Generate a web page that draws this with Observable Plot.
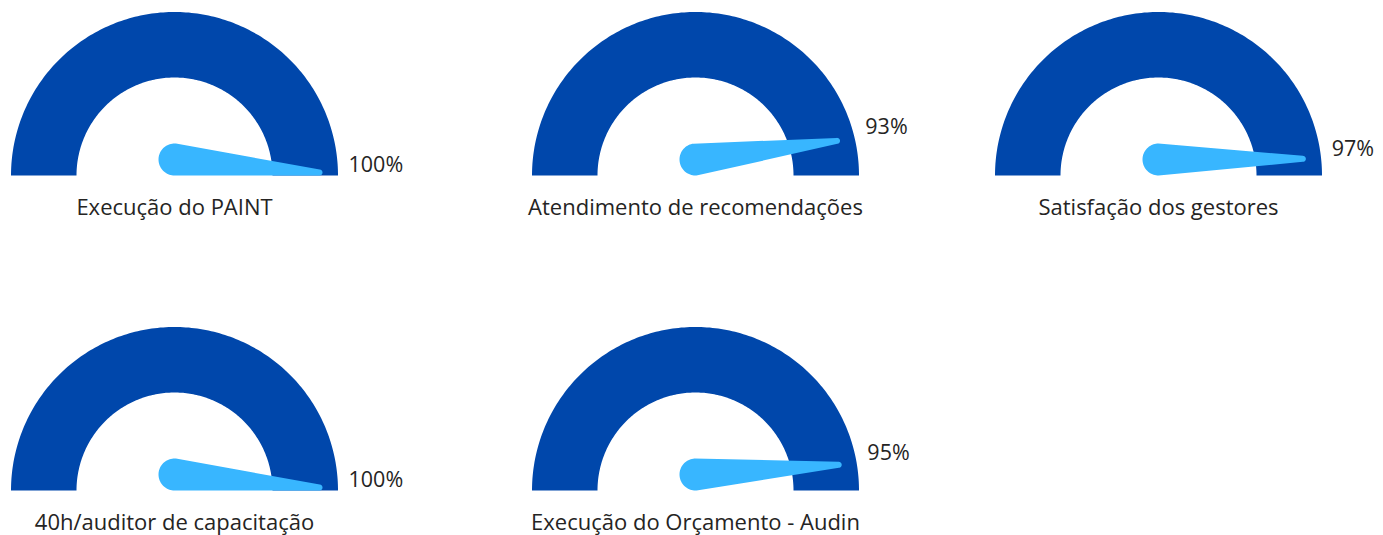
<!DOCTYPE html>
<html>
<head>
<meta charset="utf-8">
<script src="https://cdn.jsdelivr.net/npm/d3@7"></script>
<script src="https://cdn.jsdelivr.net/npm/@observablehq/plot@0.6"></script>
<style>
  html, body { margin: 0; padding: 0; background: #fff; }
  #wrap { position: relative; width: 1383px; height: 535px; overflow: hidden; background: #fff; }
  .gauge { position: absolute; width: 440px; height: 230px; }
  .gauge svg { max-width: none !important; }
</style>
</head>
<body>
<div id="wrap"></div>
<script>
// ---- data ----
const titles = [
  "Execução do PAINT",
  "Atendimento de recomendações",
  "Satisfação dos gestores",
  "40h/auditor de capacitação",
  "Execução do Orçamento - Audin"
];
const values = [100, 93, 97, 100, 95];   // percent
const minValues = [0, 0, 0, 0, 0];
const maxValues = [100, 100, 100, 100, 100];

// ---- layout / style (not data) ----
const slots = [
  {left: -1.5, top: -3},
  {left: 520, top: -3},
  {left: 982.5, top: -3},
  {left: -1.5, top: 312},
  {left: 520, top: 312}
];
const W = 440, H = 230;
const R_OUT = 163.5, R_IN = 98;
const NEEDLE_LEN = 145, BASE_R = 16, TIP_R = 3;
const LABEL_R = 174;
const DARK = "#0047ab", LIGHT = "#38b6ff", TEXT = "#252423";

function arcPolygon() {
  const pts = [];
  const N = 180;
  for (let i = 0; i <= N; i++) {
    const a = Math.PI - Math.PI * i / N;
    pts.push({x: R_OUT * Math.cos(a), y: R_OUT * Math.sin(a)});
  }
  for (let i = 0; i <= N; i++) {
    const a = Math.PI * i / N;
    pts.push({x: R_IN * Math.cos(a), y: R_IN * Math.sin(a)});
  }
  return pts;
}

function needlePolygon(theta) {
  const P = {x: 0, y: BASE_R};
  const T = {x: NEEDLE_LEN * Math.cos(theta), y: NEEDLE_LEN * Math.sin(theta) + TIP_R};
  const phi = Math.atan2(T.y - P.y, T.x - P.x);
  const pts = [];
  const M = 40;
  for (let i = 0; i <= M; i++) {
    const a = phi + Math.PI / 2 - Math.PI * i / M;
    pts.push({x: T.x + TIP_R * Math.cos(a), y: T.y + TIP_R * Math.sin(a)});
  }
  for (let i = 0; i <= M; i++) {
    const a = phi - Math.PI / 2 - Math.PI * i / M;
    pts.push({x: P.x + BASE_R * Math.cos(a), y: P.y + BASE_R * Math.sin(a)});
  }
  return pts;
}

const wrap = document.getElementById("wrap");
titles.forEach((title, i) => {
  const v = values[i];
  const frac = (v - minValues[i]) / (maxValues[i] - minValues[i]);
  const theta = Math.PI * (1 - frac);
  const chart = Plot.plot({
    width: W,
    height: H,
    margin: 0,
    style: {fontFamily: "'Open Sans', sans-serif", background: "transparent", overflow: "visible", maxWidth: "none"},
    x: {domain: [-175, W - 175], axis: null},
    y: {domain: [-52, H - 52], axis: null},
    marks: [
      Plot.line(arcPolygon(), {x: "x", y: "y", fill: DARK, stroke: "none", curve: "linear-closed"}),
      Plot.line(needlePolygon(theta), {x: "x", y: "y", fill: LIGHT, stroke: "none", curve: "linear-closed"}),
      Plot.text([v], {
        x: () => LABEL_R * Math.cos(theta),
        y: () => LABEL_R * Math.sin(theta) + 10,
        text: d => d + "%",
        textAnchor: "start",
        fontSize: 21.5,
        fill: TEXT
      }),
      Plot.text([title], {
        x: () => 0,
        y: () => -32.5,
        text: d => d,
        textAnchor: "middle",
        fontSize: 22,
        fill: TEXT
      })
    ]
  });
  const div = document.createElement("div");
  div.className = "gauge";
  div.style.left = slots[i].left + "px";
  div.style.top = slots[i].top + "px";
  div.appendChild(chart);
  wrap.appendChild(div);
});
</script>
</body>
</html>
